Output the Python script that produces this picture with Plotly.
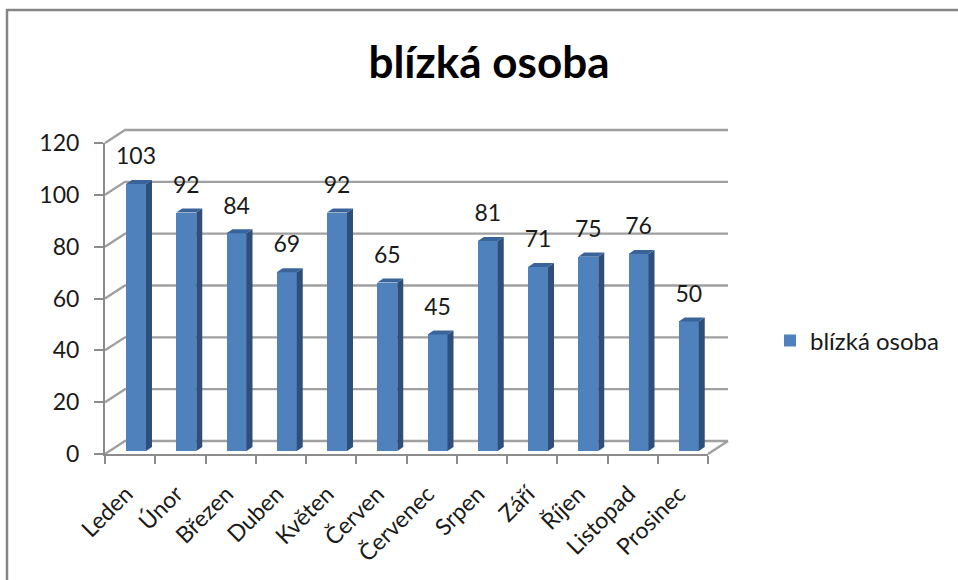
import plotly.graph_objects as go

categories = ["Leden", "Únor", "Březen", "Duben", "Květen", "Červen", "Červenec",
              "Srpen", "Září", "Říjen", "Listopad", "Prosinec"]
values = [103, 92, 84, 69, 92, 65, 45, 81, 71, 75, 76, 50]
y_ticks = [0, 20, 40, 60, 80, 100, 120]
series_name = "blízká osoba"

W, H = 958, 580
L, R, T, B = 105, 708, 143, 454      # front axes in pixels
N = len(categories)
Y_TOP = y_ticks[-1]
px_x = (R - L) / N                   # pixels per category
px_y = (B - T) / Y_TOP               # pixels per value unit
WALL_DX, WALL_DY = 20 / px_x, 13 / px_y      # floor depth
PAD = 6                              # pixels of room around the wall drawing
BAR_W = 20 / px_x
BAR_X0 = 21 / px_x                   # front-left corner of the bar within its category
BAR_BASE = 3 / px_y
BAR_DX, BAR_DY = 6 / px_x, 4 / px_y  # bar depth

GRID = "#A0A0A0"
AXIS = "#8C8C8C"
FRONT = "#4F81BD"
SIDE = "#2F4F7A"
TOP = "#3A6499"
TEXT = "#1A1A1A"
FONT = "Lato"

fig = go.Figure()

# back wall grid and floor edges (lowest layer)
for v in y_ticks:
    fig.add_trace(go.Scatter(x=[0, WALL_DX, N + WALL_DX], y=[v, v + WALL_DY, v + WALL_DY],
                             mode="lines", showlegend=False, hoverinfo="skip",
                             line=dict(color=GRID, width=2.4), xaxis="x", yaxis="y"))
fig.add_trace(go.Scatter(x=[N, N + WALL_DX], y=[0, WALL_DY], mode="lines", showlegend=False,
                         hoverinfo="skip", line=dict(color=GRID, width=2.4), xaxis="x", yaxis="y"))

# front faces
xc = [i + BAR_X0 + BAR_W / 2 for i in range(N)]
fig.add_trace(go.Bar(x=xc, y=values, base=BAR_BASE, width=BAR_W, name=series_name,
                     marker=dict(color=FRONT, line=dict(width=0)),
                     xaxis="x2", yaxis="y2", hoverinfo="skip"))

# side and top faces
for i, v in enumerate(values):
    x0 = i + BAR_X0
    x1 = x0 + BAR_W
    y1 = v + BAR_BASE
    fig.add_trace(go.Scatter(
        x=[x1, x1 + BAR_DX, x1 + BAR_DX, x1, x1],
        y=[BAR_BASE, BAR_BASE + BAR_DY, y1 + BAR_DY, y1, BAR_BASE],
        fill="toself", fillcolor=SIDE, mode="none", showlegend=False, hoverinfo="skip",
        xaxis="x2", yaxis="y2"))
    fig.add_trace(go.Scatter(
        x=[x0, x1, x1 + BAR_DX, x0 + BAR_DX, x0],
        y=[y1, y1, y1 + BAR_DY, y1 + BAR_DY, y1],
        fill="toself", fillcolor=TOP, mode="none", showlegend=False, hoverinfo="skip",
        xaxis="x2", yaxis="y2"))

# data labels (also carries the category-label axis x3)
fig.add_trace(go.Scatter(x=xc, y=[v + 17 / px_y for v in values],
                         text=[str(v) for v in values], mode="text",
                         textposition="top center", cliponaxis=False,
                         textfont=dict(family=FONT, size=23, color=TEXT),
                         showlegend=False, hoverinfo="skip", xaxis="x3", yaxis="y2"))

front_x = [L / W, R / W]
front_y = [1 - B / H, 1 - T / H]
wall_x = [(L - PAD) / W, (R + 20 + PAD) / W]
wall_y = [1 - (B + PAD) / H, 1 - (T - 13 - PAD) / H]


def px(x):
    return x / W


def py(y):
    return 1 - y / H


fig.update_layout(
    width=W, height=H, autosize=False,
    margin=dict(l=0, r=0, t=0, b=0, autoexpand=False),
    paper_bgcolor="white", plot_bgcolor="rgba(0,0,0,0)",
    font=dict(family=FONT, color=TEXT),
    title=dict(text=series_name, x=489 / W, xanchor="center", y=1 - 63 / H, yanchor="middle",
               automargin=False,
               font=dict(family=FONT, size=44, color="#000000", weight="bold")),
    showlegend=True,
    legend=dict(x=770 / W, y=1 - 341 / H, xanchor="left", yanchor="middle",
                font=dict(family=FONT, size=24, color=TEXT), bgcolor="rgba(0,0,0,0)"),
    bargap=0,
    # wall axes (hidden)
    xaxis=dict(domain=wall_x, range=[-PAD / px_x, N + (20 + PAD) / px_x], visible=False,
               automargin=False, anchor="y"),
    yaxis=dict(domain=wall_y, range=[-PAD / px_y, Y_TOP + (13 + PAD) / px_y], visible=False,
               automargin=False, anchor="x"),
    # front axes: lines, ticks, value labels
    xaxis2=dict(domain=front_x, range=[0, N], anchor="y2", tickmode="array",
                tickvals=list(range(N + 1)), ticktext=[""] * (N + 1), automargin=False,
                ticks="outside", ticklen=8, tickwidth=2, tickcolor=AXIS,
                showline=True, linecolor=AXIS, linewidth=2.4,
                showgrid=False, zeroline=False),
    yaxis2=dict(domain=front_y, range=[0, Y_TOP], anchor="x2", tickmode="array",
                tickvals=y_ticks, automargin=False,
                ticks="outside", ticklen=9, tickwidth=2, tickcolor=AXIS, ticklabelstandoff=10,
                tickfont=dict(family=FONT, size=23, color=TEXT),
                showline=True, linecolor=AXIS, linewidth=2,
                showgrid=False, zeroline=False),
    # category labels
    xaxis3=dict(domain=front_x, range=[0, N], overlaying="x2", anchor="y2", side="bottom",
                tickmode="array", tickvals=[i + 0.5 - 4 / px_x for i in range(N)], ticktext=categories,
                tickangle=-45, ticks="", ticklen=0, automargin=False, ticklabelstandoff=21,
                tickfont=dict(family=FONT, size=23, color=TEXT),
                showgrid=False, zeroline=False, showline=False),
    shapes=[dict(type="path", xref="paper", yref="paper", layer="above",
                 path=f"M {px(7)},{py(580)} L {px(7)},{py(10)} L {px(958)},{py(10)}",
                 line=dict(color="#868686", width=2.5))],
)

fig.write_html("out.html", post_script="document.body.style.margin='0';",
               config={"displayModeBar": False, "staticPlot": True})
